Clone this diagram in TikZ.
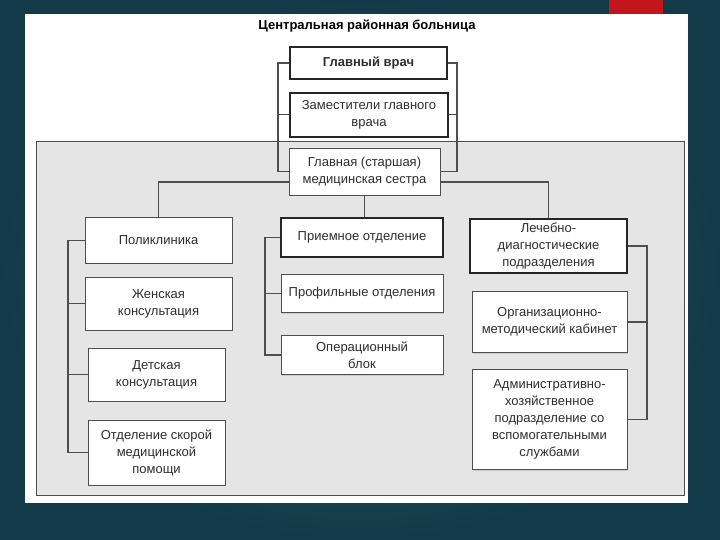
\documentclass[tikz,border=0pt]{standalone}
\usepackage{fontspec}
\setmainfont{Liberation Sans}
\usetikzlibrary{positioning,backgrounds,shadows}
\definecolor{cSlide}{HTML}{133A48}
\definecolor{cSlideLight}{HTML}{285A60}
\definecolor{cMark}{HTML}{C3161C}
\definecolor{cPanel}{HTML}{E5E5E5}
\definecolor{cLine}{HTML}{4E4E4E}
\definecolor{cText}{HTML}{2E2E2E}

\begin{document}
\begin{tikzpicture}[
  x=1pt, y=-1pt,
  font=\fontsize{13}{17}\selectfont,
  dept/.style={draw=cLine, line width=1pt, fill=white, align=center, text=cText,
               inner sep=2.5pt,
               drop shadow={shadow xshift=1.2pt, shadow yshift=-1.2pt, opacity=0.25}},
  lead/.style={dept, draw=black!85, line width=1.7pt},
  link/.style={draw=cLine, line width=1.3pt},
]
\useasboundingbox (0,0) rectangle (720,540);

% ---------------- slide ----------------
\begin{scope}[on background layer]
  \shade[inner color=cSlideLight, outer color=cSlide] (0,0) rectangle (720,540);
  \fill[cMark] (609,0) rectangle (663,14);
  \fill[white] (25,14) rectangle (688,503);
  \draw[fill=cPanel, draw=black!70, line width=0.9pt] (36,141) rectangle (684,495);
\end{scope}

% ---------------- management ----------------
\node (title) [font=\fontsize{13}{15}\selectfont\bfseries] at (367,26) {Центральная районная больница};
\node (chief) [lead, minimum width=157pt, minimum height=32pt,
               font=\fontsize{13}{15}\selectfont\bfseries] at (368.5,63) {Главный врач};
\node (deputy) [lead, minimum width=158pt, minimum height=44pt, below=12pt of chief,
                xshift=0.5pt] {Заместители главного\\врача};
\node (nurse) [dept, minimum width=151pt, minimum height=47pt, below=10pt of deputy,
               xshift=-4.5pt] {Главная (старшая)\\медицинская сестра};

% ---------------- left column ----------------
\node (poly) [dept, minimum width=147pt, minimum height=45pt] at (158.5,240.5) {Поликлиника};
\node (women) [dept, minimum width=147pt, minimum height=53pt, below=13pt of poly] {Женская\\консультация};
\node (child) [dept, minimum width=137pt, minimum height=53pt, below=17pt of women,
               xshift=-2pt] {Детская\\консультация};
\node (ambul) [dept, minimum width=137pt, minimum height=65pt, below=18pt of child]
  {Отделение скорой\\медицинской\\помощи};

% ---------------- middle column ----------------
\node (recept) [lead, minimum width=162pt, minimum height=39pt] at (362,237.5) {Приемное отделение};
\node (profile) [dept, minimum width=162pt, minimum height=38pt, below=16pt of recept] {Профильные отделения};
\node (surgery) [dept, minimum width=162pt, minimum height=39pt, below=22pt of profile] {Операционный\\блок};

% ---------------- right column ----------------
\node (diag) [lead, minimum width=157pt, minimum height=54pt] at (548.5,246)
  {Лечебно-\\диагностические\\подразделения};
\node (method) [dept, minimum width=155pt, minimum height=61pt, below=17pt of diag,
                xshift=1pt] {Организационно-\\методический кабинет};
\node (admin) [dept, minimum width=155pt, minimum height=100pt, below=16pt of method]
  {Административно-\\хозяйственное\\подразделение со\\вспомогательными\\службами};

% ---------------- connectors ----------------
\begin{scope}[on background layer]
  % bus under the head nurse
  \coordinate (bus) at (364,182);
  \draw[link] (poly.north) |- (bus) -| (diag.north);
  \draw[link] (nurse.south) -- (nurse.south |- recept.north);

  % management brackets
  \coordinate (topL) at (278,0);
  \coordinate (topR) at (457,0);
  \draw[link] (chief.west) -- (chief.west -| topL) |- (nurse.west);
  \draw[link] (deputy.west) -- (deputy.west -| topL);
  \draw[link] (chief.east) -- (chief.east -| topR) |- (nurse.east);
  \draw[link] (deputy.east) -- (deputy.east -| topR);

  % left column bracket
  \coordinate (polyL) at (68,0);
  \draw[link] (poly.west) -- (poly.west -| polyL) |- (ambul.west);
  \draw[link] (women.west) -- (women.west -| polyL);
  \draw[link] (child.west) -- (child.west -| polyL);

  % middle column bracket
  \coordinate (receptL) at (265,0);
  \draw[link] (recept.west) -- (recept.west -| receptL) |- (surgery.west);
  \draw[link] (profile.west) -- (profile.west -| receptL);

  % right column bracket
  \coordinate (diagR) at (647,0);
  \draw[link] (diag.east) -- (diag.east -| diagR) |- (admin.east);
  \draw[link] (method.east) -- (method.east -| diagR);
\end{scope}

\end{tikzpicture}
\end{document}
